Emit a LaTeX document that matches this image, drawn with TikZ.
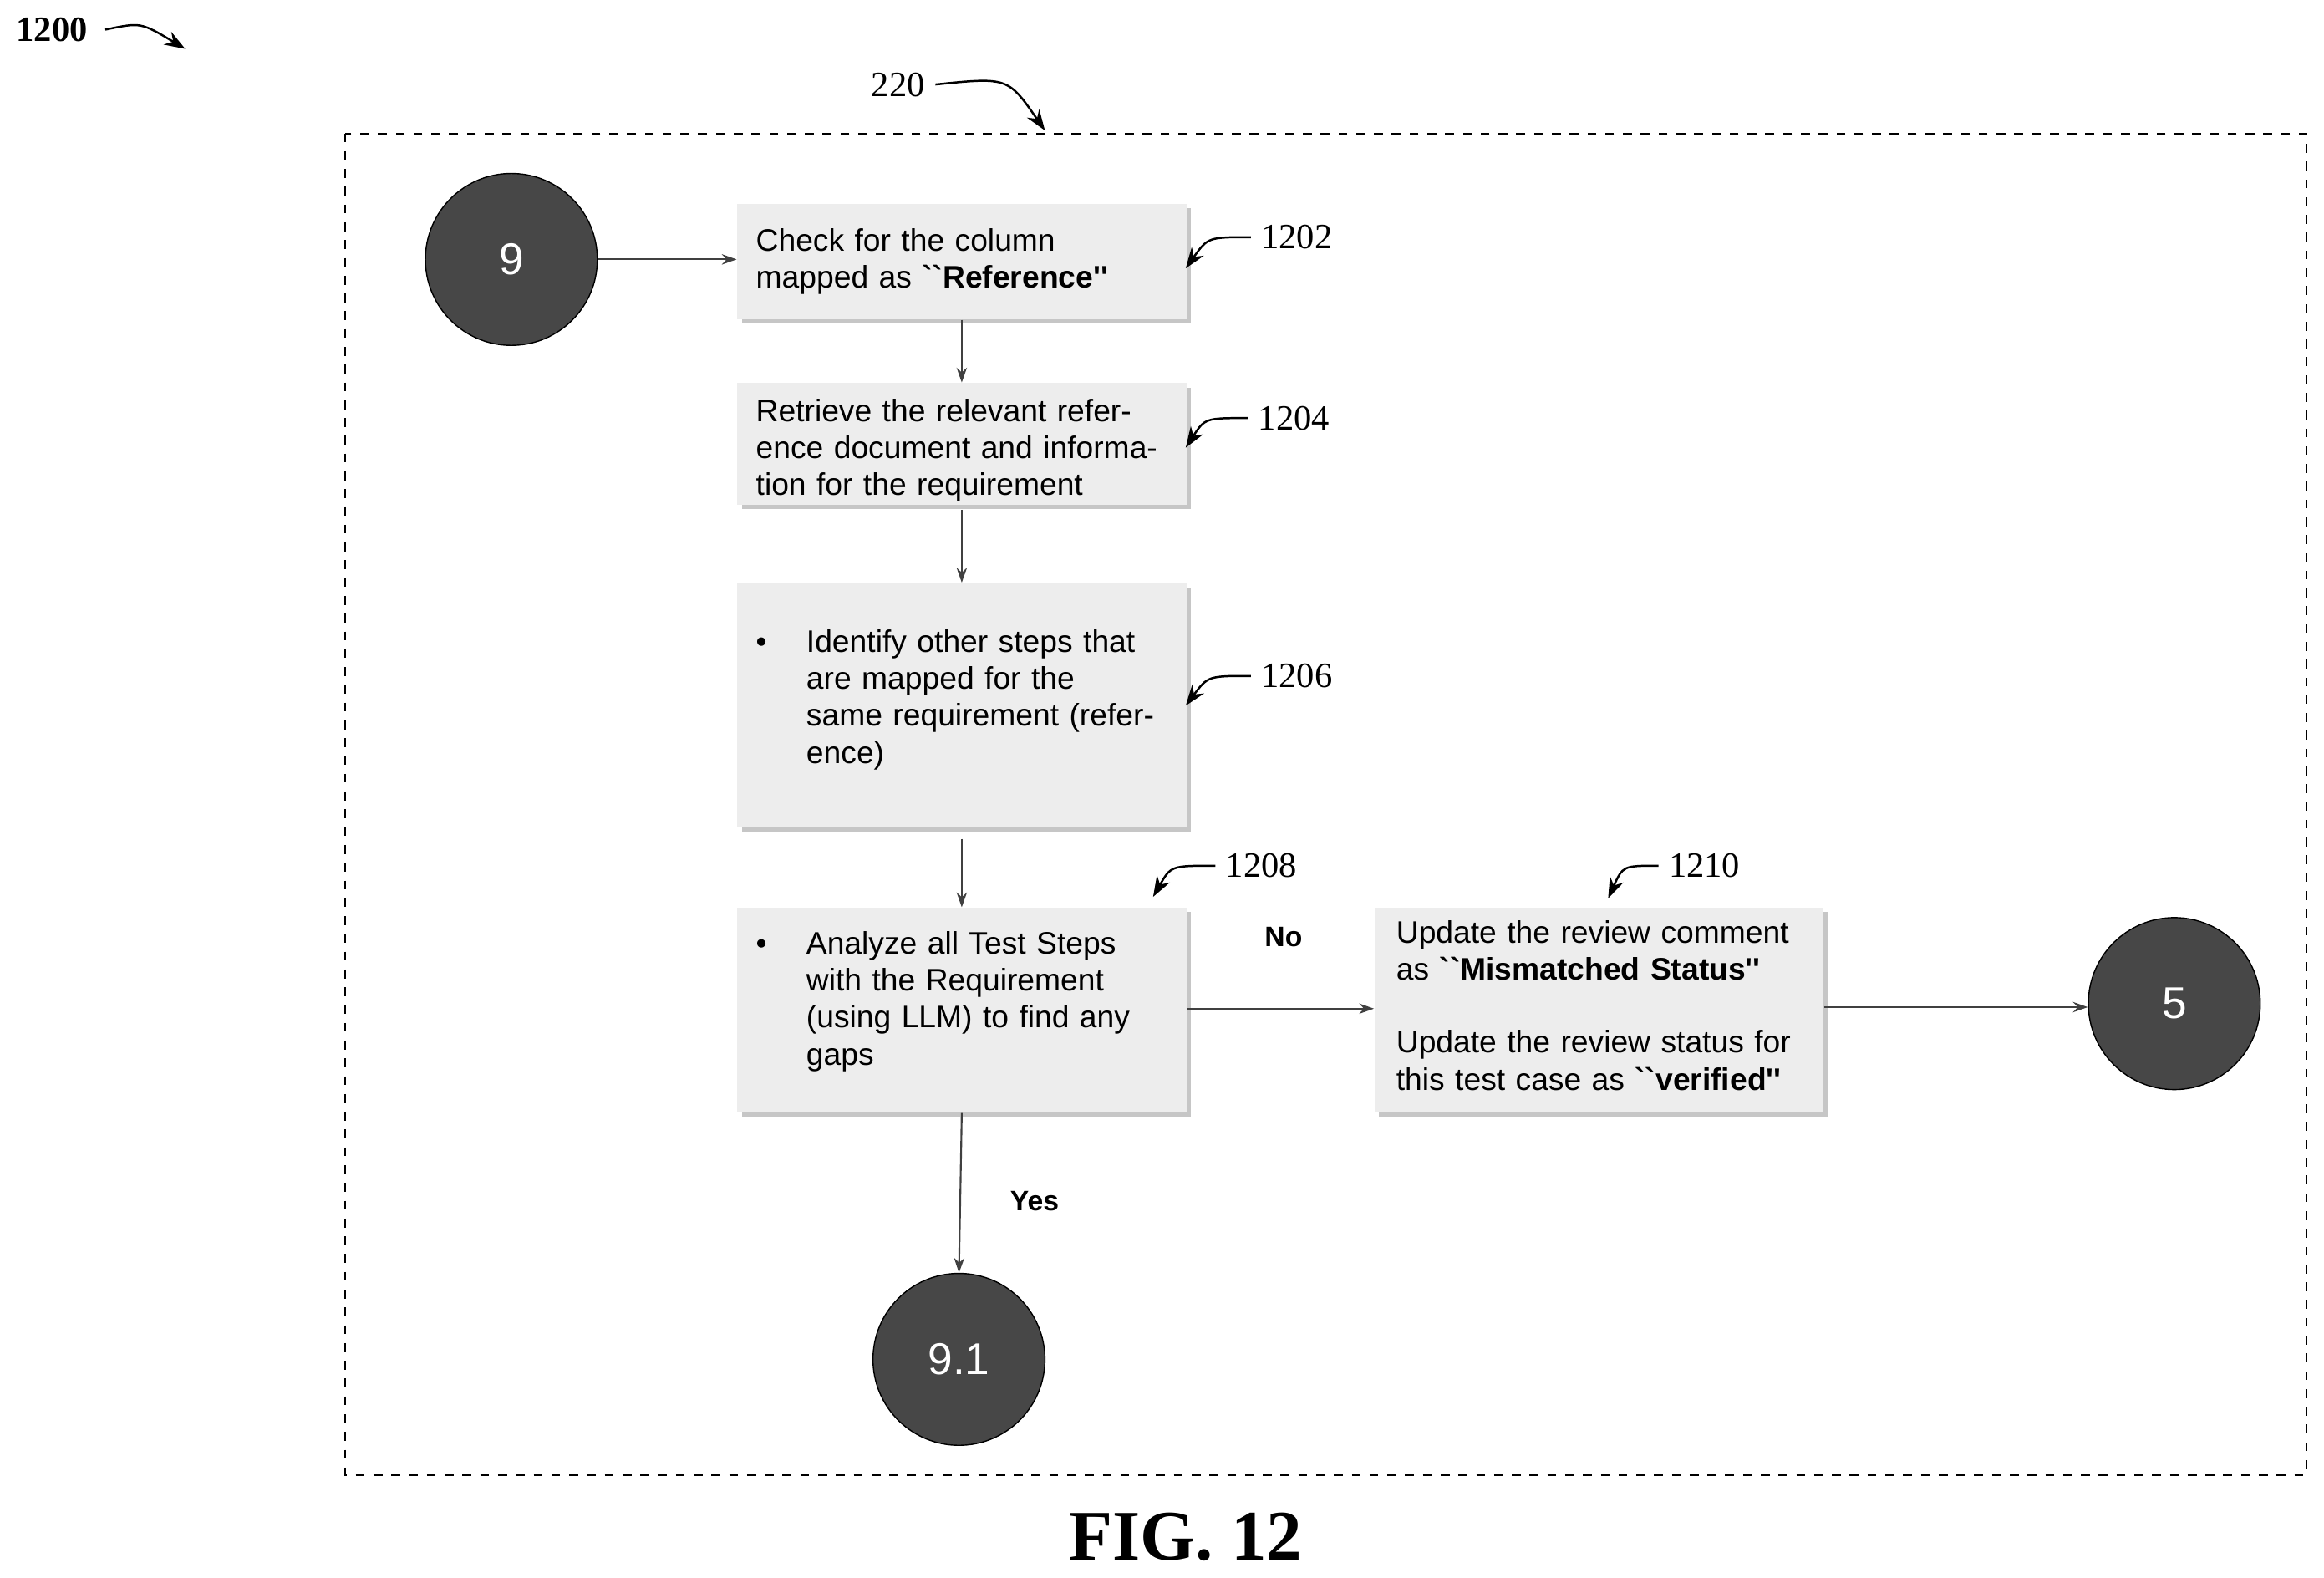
\documentclass[tikz,border=0pt]{standalone}
\usepackage{fontspec}
\setmainfont{Liberation Serif}
\newfontfamily\arialf{Liberation Sans}
\usetikzlibrary{arrows.meta,shadows}
\begin{document}
\begin{tikzpicture}[x=0.5pt,y=-0.5pt,
 box/.style={draw=none,fill=gray!14,drop shadow={shadow xshift=1.5pt,shadow yshift=-1.5pt,fill=gray!45,opacity=1},inner sep=0pt,anchor=north west},
 circ/.style={circle,fill=black!72,draw=black,minimum size=58pt,text=white,font=\arialf\fontsize{15}{18}\selectfont},
 txt/.style={font=\arialf\fontsize{10.5}{12.5}\selectfont,align=left,text width=138pt},
 flow/.style={draw=black!75,-{Stealth[length=5pt,width=3.5pt]},line width=0.6pt},
 refa/.style={-{Stealth[length=7pt,width=5pt]},line width=0.7pt},
 lab/.style={font=\fontsize{12}{14}\selectfont}]
\useasboundingbox (0,0) rectangle (1568,1064);
\node[font=\bfseries\fontsize{12}{14}\selectfont] (t1200) at (35,20) {1200};
\coordinate (a1200) at (125,33);
\draw[refa] (t1200.east) ++(5,0) .. controls (95,15) .. (a1200);
\draw[dashed,line width=0.6pt] (233,90) rectangle (1556,995);
\node[lab] (t220) at (606,57) {220};
\coordinate (a220) at (705,88);
\draw[refa] (t220.east) .. controls (680,52) .. (a220);

\node[circ] (c9) at (345,175) {9};
\node[circ] (c5) at (1467,677) {5};
\node[circ] (c91) at (647,917) {9.1};

\node[box,minimum width=151.5pt,minimum height=39pt] (b1202) at (497,137) {};
\node[txt,anchor=north west] at (b1202.north west) [xshift=3pt,yshift=-5pt] {Check for the column mapped as \textbf{``Reference''}};
\node[box,minimum width=151.5pt,minimum height=41pt] (b1204) at (497,258) {};
\node[txt,anchor=north west] at (b1204.north west) [xshift=3pt,yshift=-2pt] {Retrieve the relevant reference document and information for the requirement};
\node[box,minimum width=151.5pt,minimum height=82.5pt] (b1206) at (497,393) {};
\node[txt,anchor=west] at (b1206.west) [xshift=3pt,yshift=2pt] {\hspace*{0pt}\makebox[17pt][l]{•}\parbox[t]{118pt}{Identify other steps that are mapped for the same requirement (reference)}};
\node[box,minimum width=151.5pt,minimum height=69pt] (b1208) at (497,612) {};
\node[txt,anchor=west] at (b1208.west) [xshift=3pt,yshift=3pt] {\makebox[17pt][l]{•}\parbox[t]{118pt}{Analyze all Test Steps with the Requirement (using LLM) to find any gaps}};
\node[box,minimum width=151.5pt,minimum height=69pt] (b1210) at (927,612) {};
\node[txt,anchor=north west] at (b1210.north west) [xshift=4pt,yshift=-1pt] {Update the review comment as \textbf{``Mismatched Status''}\\[12pt]Update the review status for this test case as \textbf{``verified''}};

\draw[flow] (c9) -- (c9 -| b1202.west);
\draw[flow] (b1202.south) -- (b1204.north);
\draw[flow] (b1204.south) ++(0,3) -- (b1206.north);
\draw[flow] (b1206.south) ++(0,7) -- (b1208.north);
\draw[flow] (b1208.east) ++(0,-1) coordinate (s) -- (s -| b1210.west);
\draw[flow] (b1208.south) -- (c91.north);
\draw[flow] (b1210.east) ++(0,-2) coordinate (s2) -- (s2 -| c5.west);
\node[font=\arialf\bfseries\fontsize{9.5}{11}\selectfont] (no) at (866,632) {No};
\node[font=\arialf\bfseries\fontsize{9.5}{11}\selectfont] (yes) at (698,810) {Yes};

\node[lab] (n1202) at (875,160) {1202};
\coordinate (p1202) at (800,181);
\draw[refa] (n1202.west) .. controls (815,160) .. (p1202);
\node[lab] (n1204) at (873,282) {1204};
\coordinate (p1204) at (800,302);
\draw[refa] (n1204.west) .. controls (813,282) .. (p1204);
\node[lab] (n1206) at (875,456) {1206};
\coordinate (p1206) at (800,476);
\draw[refa] (n1206.west) .. controls (815,456) .. (p1206);
\node[lab] (n1208) at (851,584) {1208};
\coordinate (p1208) at (778,605);
\draw[refa] (n1208.west) .. controls (790,584) .. (p1208);
\node[lab] (n1210) at (1150,584) {1210};
\coordinate (p1210) at (1085,606);
\draw[refa] (n1210.west) .. controls (1095,584) .. (p1210);

\node[font=\bfseries\fontsize{24}{28}\selectfont] (fig) at (800,1037) {FIG. 12};
\end{tikzpicture}
\end{document}
